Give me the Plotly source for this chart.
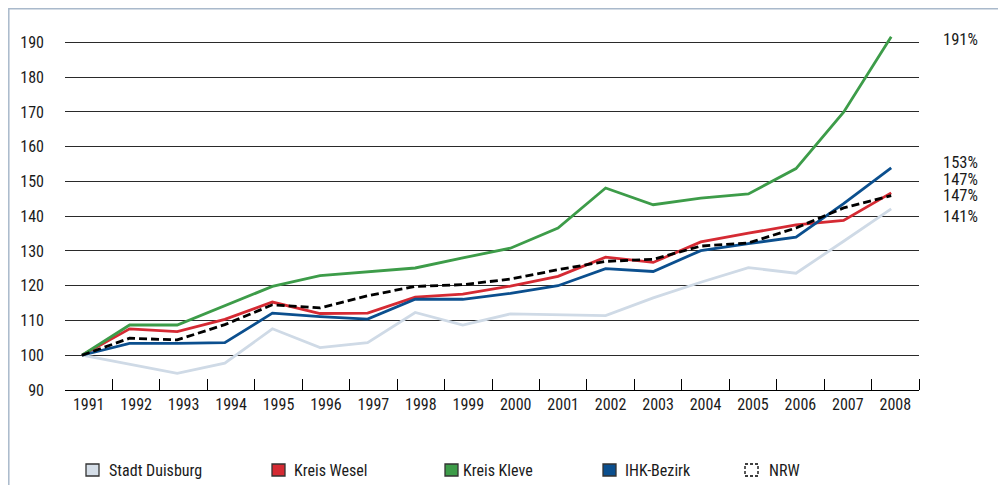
import plotly.graph_objects as go

years = list(range(1991, 2009))
duisburg = [100, 97.3, 94.8, 97.7, 107.6, 102.2, 103.6, 112.3, 108.7, 111.9, 111.6, 111.4, 116.5, 121.0, 125.2, 123.6, 132.8, 142.1]
wesel = [100, 107.6, 106.8, 110.3, 115.3, 112.0, 112.1, 116.7, 117.6, 119.9, 122.7, 128.2, 126.7, 132.6, 135.1, 137.5, 138.8, 146.7]
kleve = [100, 108.7, 108.7, 114.2, 119.8, 122.9, 124.1, 125.1, 128.0, 130.8, 136.6, 148.1, 143.3, 145.2, 146.4, 153.7, 169.9, 191.6]
ihk = [100, 103.4, 103.4, 103.6, 112.1, 111.1, 110.4, 116.1, 116.1, 117.8, 120.0, 124.9, 124.1, 130.1, 132.1, 134.0, 143.6, 153.9]
nrw = [100, 104.9, 104.4, 108.8, 114.5, 113.6, 117.1, 119.8, 120.3, 121.9, 124.6, 127.0, 127.6, 131.4, 132.3, 136.6, 142.4, 145.9]

names = ["Stadt Duisburg", "Kreis Wesel", "Kreis Kleve", "IHK-Bezirk", "NRW"]
series = [duisburg, wesel, kleve, ihk, nrw]
colors = ["#cfdae6", "#d52a33", "#3d9c49", "#0b4f8e", "#000000"]
fills = ["#d5dee8", "#d52a33", "#3d9c49", "#0b4f8e", "#ffffff"]
dashes = ["solid", "solid", "solid", "solid", "8px,4px"]

end_labels = ["191%", "153%", "147%", "147%", "141%"]
end_label_y = [190.9, 155.4, 150.5, 145.9, 139.9]

y_ticks = list(range(90, 200, 10))

FONT = "Liberation Sans Narrow, Roboto Condensed, Arial Narrow, Roboto, sans-serif"

fig = go.Figure()
for name, vals, col, d in zip(names, series, colors, dashes):
    fig.add_trace(go.Scatter(x=years, y=vals, mode="lines", name=name,
                             line=dict(color=col, width=2.8, dash=d),
                             showlegend=False, hoverinfo="skip"))
# invisible trace carrying the labelling axis
fig.add_trace(go.Scatter(x=[None], y=[None], xaxis="x2", yaxis="y",
                         showlegend=False, hoverinfo="skip"))

# page body adds an 8px offset; work in screen pixels and subtract it
OFF = 8
W, H = 1006 - OFF, 485 - OFF
L, R, T, B = 65 - OFF, 1006 - 919, 25 - OFF, 485 - 390
pw, ph = W - L - R, H - T - B

def px_x(p):
    return (p - OFF - L) / pw

def px_y(q):
    return (H - B - (q - OFF)) / ph

# frame
fig.add_shape(type="rect", xref="paper", yref="paper",
              x0=px_x(OFF + 0.8), x1=px_x(1002), y0=px_y(500), y1=px_y(OFF + 0.8),
              line=dict(color="#a9b9cb", width=1.5), fillcolor="rgba(0,0,0,0)", layer="below")

# end labels
for t, yv in zip(end_labels, end_label_y):
    fig.add_annotation(x=px_x(942), xref="paper", y=yv, yref="y", text=t,
                       showarrow=False, xanchor="left", yanchor="middle", borderpad=0,
                       font=dict(size=16.5, color="#1a1a1a", family=FONT))

# legend
box_left = [86, 272, 445, 603, 745]
text_left = [107, 292, 461, 623, 767]
for name, bl, tl, fc, col, d in zip(names, box_left, text_left, fills, colors, dashes):
    fig.add_shape(type="rect", xref="paper", yref="paper",
                  x0=px_x(bl), x1=px_x(bl + 13), y0=px_y(476), y1=px_y(464),
                  fillcolor=fc,
                  line=dict(color="#333333" if d == "solid" else "#000000", width=1.3,
                            dash="solid" if d == "solid" else "3px,2px"))
    fig.add_annotation(x=px_x(tl), xref="paper", y=px_y(470), yref="paper", text=name,
                       showarrow=False, xanchor="left", yanchor="middle",
                       font=dict(size=16, color="#1a1a1a", family=FONT))

n = len(years)
fig.update_layout(
    width=W, height=H,
    margin=dict(l=L, r=R, t=T, b=B),
    paper_bgcolor="white", plot_bgcolor="white",
    font=dict(family=FONT, size=16, color="#1a1a1a"),
    xaxis=dict(range=[years[0] - 17 / 47.6, years[0] + 837 / 47.6],
               showticklabels=False, ticks="", showgrid=False, zeroline=False, showline=False),
    xaxis2=dict(overlaying="x", anchor="y", side="bottom", range=[0, n],
                tickmode="array", tickvals=[i + 0.5 for i in range(n)],
                ticktext=[str(y) for y in years], ticks="",
                showgrid=False, zeroline=False, showline=True, linecolor="#000000", linewidth=1.2,
                minor=dict(tickmode="array", tickvals=list(range(1, n + 1)), ticks="inside",
                           ticklen=11, tickcolor="#000000", tickwidth=1.2, showgrid=False),
                tickfont=dict(size=16, family=FONT, color="#1a1a1a")),
    yaxis=dict(range=[90, 195], tickmode="array", tickvals=y_ticks,
               showgrid=True, gridcolor="#2a2a2a", gridwidth=1.2, zeroline=False,
               showline=False, ticks="", ticklabelstandoff=20,
               tickfont=dict(size=16, family=FONT, color="#1a1a1a")),
    showlegend=False,
)

fig.write_html("out.html")
